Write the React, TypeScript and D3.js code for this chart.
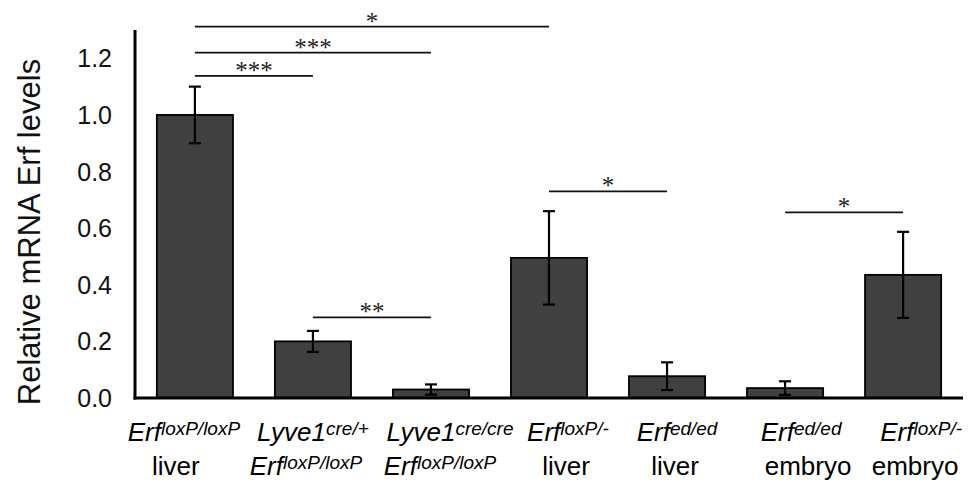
import React, { useEffect, useRef } from "react";
import * as d3 from "d3";

// bar heights and error bars (relative mRNA Erf levels)
const means = [1.0, 0.2, 0.03, 0.495, 0.077, 0.035, 0.435];
const errors = [0.1, 0.037, 0.018, 0.165, 0.049, 0.024, 0.152];

// two-line category labels: [main, superscript] pairs, or plain text
const labelTop = [
  ["Erf", "loxP/loxP"],
  ["Lyve1", "cre/+"],
  ["Lyve1", "cre/cre"],
  ["Erf", "loxP/-"],
  ["Erf", "ed/ed"],
  ["Erf", "ed/ed"],
  ["Erf", "loxP/-"],
];
const labelBottom = [
  ["liver"],
  ["Erf", "loxP/loxP"],
  ["Erf", "loxP/loxP"],
  ["liver"],
  ["liver"],
  ["embryo"],
  ["embryo"],
];

const yTicks = [0, 0.2, 0.4, 0.6, 0.8, 1.0, 1.2];

// significance brackets
const sigFrom = [0, 0, 0, 1, 3, 5];
const sigTo = [3, 2, 1, 2, 4, 6];
const sigLevel = [1.312, 1.22, 1.138, 0.285, 0.73, 0.656];
const sigText = ["*", "***", "***", "**", "*", "*"];

const W = 971;
const H = 484;
// label nudges, as in the original figure the labels are not exactly centred
const shiftTop = [-11, 0, 19, 19, 10, 16, 18];
const shiftBottom = [-19, -7, 9, 17, 8, 23, 12];

const App = () => {
  const svgRef = useRef<SVGSVGElement>(null);

  useEffect(() => {
    document.body.style.margin = "0";
    const svg = d3.select(svgRef.current);
    svg.selectAll("*").remove();

    const x = d3
      .scaleBand<number>()
      .domain(d3.range(means.length))
      .range([135, 963])
      .paddingInner(0.355)
      .paddingOuter(0.185);
    const y = d3.scaleLinear().domain([0, 1.3]).range([398, 30]);
    const cx = (i: number) => (x(i) as number) + x.bandwidth() / 2;

    // bars
    svg
      .append("g")
      .selectAll("rect")
      .data(means)
      .join("rect")
      .attr("x", (d, i) => x(i) as number)
      .attr("y", (d) => y(d))
      .attr("width", x.bandwidth())
      .attr("height", (d) => y(0) - y(d))
      .attr("fill", "#404040")
      .attr("stroke", "#000")
      .attr("stroke-width", 1.8);

    // error bars
    const eb = svg.append("g").attr("stroke", "#000").attr("stroke-width", 2.2);
    means.forEach((m, i) => {
      const top = y(m + errors[i]);
      const bot = y(Math.max(0, m - errors[i]));
      eb.append("line").attr("x1", cx(i)).attr("x2", cx(i)).attr("y1", top).attr("y2", bot);
      [top, bot].forEach((v) =>
        eb.append("line").attr("x1", cx(i) - 6).attr("x2", cx(i) + 6).attr("y1", v).attr("y2", v)
      );
    });

    // axes
    svg
      .append("line")
      .attr("x1", 135)
      .attr("x2", 135)
      .attr("y1", y(1.3))
      .attr("y2", y(0) + 1.5)
      .attr("stroke", "#000")
      .attr("stroke-width", 3);
    svg
      .append("line")
      .attr("x1", 133.5)
      .attr("x2", 963)
      .attr("y1", y(0))
      .attr("y2", y(0))
      .attr("stroke", "#000")
      .attr("stroke-width", 3);

    svg
      .append("g")
      .selectAll("text")
      .data(yTicks)
      .join("text")
      .attr("x", 112)
      .attr("y", (d) => y(d))
      .attr("dy", "0.36em")
      .attr("text-anchor", "end")
      .attr("font-family", "Liberation Sans, Arial, sans-serif")
      .attr("font-size", 25)
      .attr("fill", "#111")
      .text((d) => d3.format(".1f")(d));

    svg
      .append("text")
      .attr("transform", `translate(40,${232})rotate(-90)`)
      .attr("text-anchor", "middle")
      .attr("font-family", "Liberation Sans, Arial, sans-serif")
      .attr("font-size", 31)
      .attr("fill", "#111")
      .text("Relative mRNA Erf levels");

    // category labels
    const drawLabel = (parts: string[], xPos: number, yPos: number) => {
      const t = svg
        .append("text")
        .attr("x", xPos)
        .attr("y", yPos)
        .attr("text-anchor", "middle")
        .attr("font-family", "Liberation Sans, Arial, sans-serif")
        .attr("font-size", 26)
        .attr("fill", "#000");
      if (parts.length === 1) {
        t.text(parts[0]);
        return;
      }
      t.append("tspan").attr("font-style", "italic").text(parts[0]);
      t.append("tspan")
        .attr("font-style", "italic")
        .attr("font-size", 19)
        .attr("dy", -6)
        .text(parts[1]);
    };
    labelTop.forEach((p, i) => drawLabel(p, cx(i) + shiftTop[i], 441));
    labelBottom.forEach((p, i) => drawLabel(p, cx(i) + shiftBottom[i], 475));

    // significance brackets
    const sg = svg.append("g");
    sigText.forEach((s, k) => {
      const x1 = cx(sigFrom[k]);
      const x2 = cx(sigTo[k]);
      const ly = y(sigLevel[k]);
      sg.append("line")
        .attr("x1", x1)
        .attr("x2", x2)
        .attr("y1", ly)
        .attr("y2", ly)
        .attr("stroke", "#111")
        .attr("stroke-width", 1.8);
      sg.append("text")
        .attr("x", (x1 + x2) / 2)
        .attr("y", ly + 3)
        .attr("text-anchor", "middle")
        .attr("font-family", "Liberation Serif, Times New Roman, serif")
        .attr("font-size", 25)
        .attr("fill", "#222")
        .text(s);
    });
  }, []);

  return <svg ref={svgRef} width={W} height={H} style={{ display: "block", background: "#fff" }} />;
};

export default App;
